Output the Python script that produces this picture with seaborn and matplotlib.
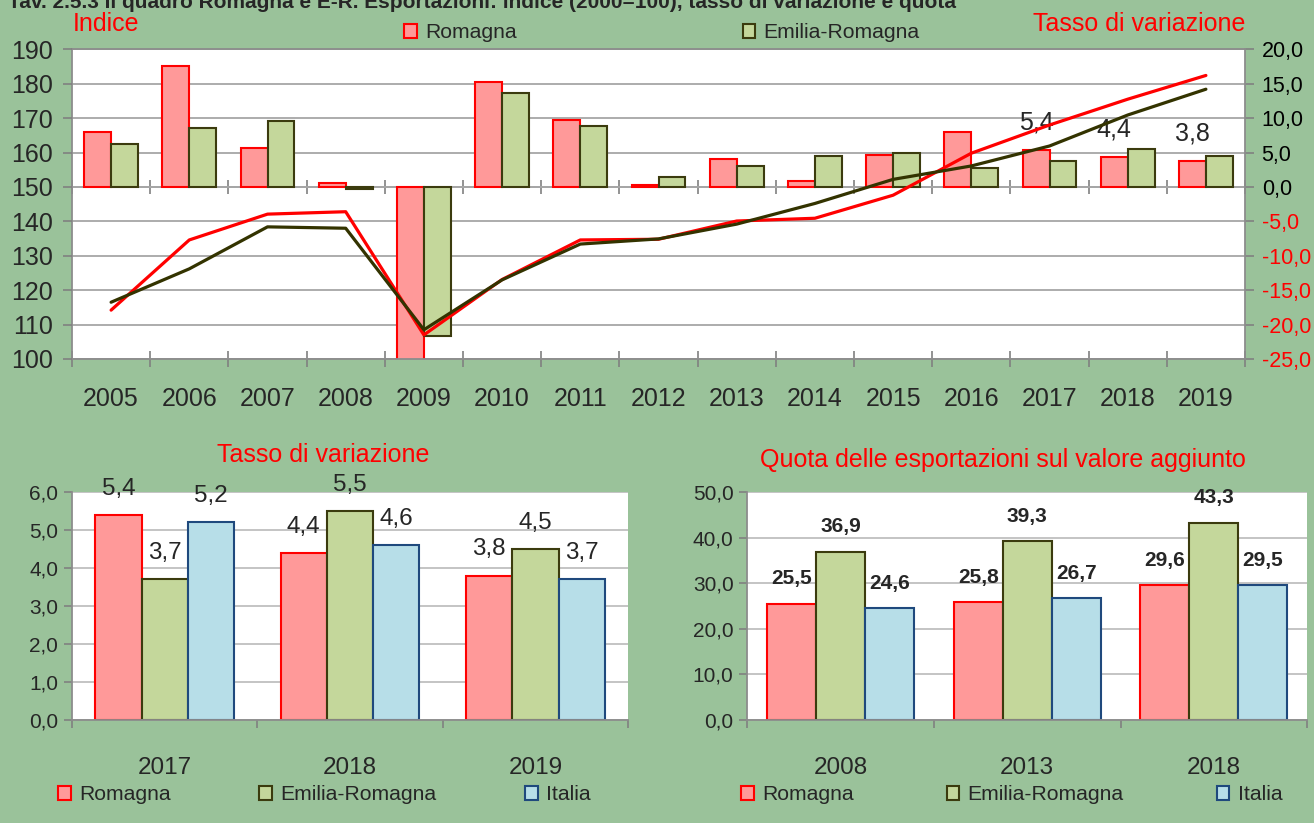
import numpy as np
import pandas as pd
import matplotlib
matplotlib.use("Agg")
import matplotlib.pyplot as plt
from matplotlib.patches import Patch
from matplotlib.ticker import FixedLocator
import seaborn as sns

# ---------------------------------------------------------------- data
years = [str(y) for y in range(2005, 2020)]
# export index (2000 = 100), lines on the left axis
idx_romagna = [114.2, 134.6, 142.1, 142.8, 107.0, 123.1, 134.6, 134.8, 140.1,
               140.9, 147.6, 159.8, 168.0, 175.5, 182.4]
idx_er = [116.5, 126.2, 138.4, 138.0, 108.5, 123.0, 133.4, 134.9, 139.2,
          145.2, 152.2, 156.1, 161.9, 170.9, 178.4]
# yearly change (%), bars on the right axis
var_romagna = [8.0, 17.6, 5.7, 0.6, -25.5, 15.3, 9.7, 0.3, 4.1, 0.8, 4.7,
               8.0, 5.4, 4.4, 3.8]
var_er = [6.2, 8.6, 9.6, -0.3, -21.7, 13.7, 8.8, 1.4, 3.0, 4.5, 4.9, 2.8,
          3.7, 5.5, 4.5]
labelled_years = ["2017", "2018", "2019"]

rate_years = ["2017", "2018", "2019"]
rate_romagna = [5.4, 4.4, 3.8]
rate_er = [3.7, 5.5, 4.5]
rate_italia = [5.2, 4.6, 3.7]

share_years = ["2008", "2013", "2018"]
share_romagna = [25.5, 25.8, 29.6]
share_er = [36.9, 39.3, 43.3]
share_italia = [24.6, 26.7, 29.5]

areas = ["Romagna", "Emilia-Romagna", "Italia"]

title = ("Tav. 2.5.3 Il quadro Romagna e E-R. Esportazioni: indice (2000=100), "
         "tasso di variazione e quota")

# ---------------------------------------------------------------- style
sns.set_style("ticks")
plt.rcParams["font.family"] = ["Liberation Sans", "DejaVu Sans"]

BG = "#9AC29A"
FILL = ["#FF9999", "#C4D79B", "#B7DEE8"]
EDGE = ["#FF0000", "#3B3B0E", "#1F497D"]
LINE = ["#FF0000", "#333300"]
GRID = "#A6A6A6"
TICK = "#808080"
LEGEND_SIZE = 15.2

W, H = 1314, 823


def box(left, top, right, bottom):
    return [left / W, 1 - bottom / H, (right - left) / W, (bottom - top) / H]


def fmt(v):
    return f"{v:.1f}".replace(".", ",")


def legend_handles(n):
    return [Patch(facecolor=FILL[i], edgecolor=EDGE[i], linewidth=1.5)
            for i in range(n)]


fig = plt.figure(figsize=(W / 100, H / 100), dpi=100, facecolor=BG)

fig.text(8 / W, 1 - 8 / H, title, fontsize=15, fontweight="bold",
         va="baseline", ha="left")

# ---------------------------------------------------------------- top chart
ax = fig.add_axes(box(72, 49.3, 1245, 359))
ax.set_facecolor("white")

top_df = pd.DataFrame({
    "anno": years * 2,
    "area": [areas[0]] * len(years) + [areas[1]] * len(years),
    "variazione": var_romagna + var_er,
})
sns.barplot(data=top_df, x="anno", y="variazione", hue="area", order=years,
            hue_order=areas[:2], palette=FILL[:2], saturation=1, width=0.69,
            errorbar=None, legend=False, ax=ax)
for cont, ec in zip(ax.containers, EDGE[:2]):
    for p in cont:
        p.set_edgecolor(ec)
        p.set_linewidth(1.5)

rom_labels = [fmt(v) if y in labelled_years else ""
              for y, v in zip(years, var_romagna)]
ax.bar_label(ax.containers[0], labels=rom_labels, padding=11, fontsize=18)

axl = ax.twinx()
line_df = pd.DataFrame({
    "pos": list(range(len(years))) * 2,
    "area": [areas[0]] * len(years) + [areas[1]] * len(years),
    "indice": idx_romagna + idx_er,
})
sns.lineplot(data=line_df, x="pos", y="indice", hue="area",
             hue_order=areas[:2], palette=LINE, linewidth=2.3, legend=False,
             ax=axl)

ax.set_xlim(-0.5, len(years) - 0.5)

# right axis: yearly change
bar_lim = (-25, 20)
ax.set_ylim(*bar_lim)
rt = np.arange(-25, 21, 5)
ax.yaxis.tick_right()
ax.set_yticks(rt, [fmt(v) for v in rt])
ax.tick_params(axis="y", which="major", right=True, left=False,
               labelright=True, labelleft=False, length=6.5, width=1.2,
               color=TICK, labelsize=15.5, pad=5.5)
for t, v in zip(ax.yaxis.get_major_ticks(), rt):
    t.label2.set_color("#FF0000" if v < 0 else "black")
ax.yaxis.grid(True, color=GRID, lw=1.3)
ax.set_axisbelow(True)

# left axis: index
axl.yaxis.tick_left()
axl.set_ylim(100, 190)
lt = np.arange(100, 191, 10)
axl.set_yticks(lt, [str(v) for v in lt])
axl.tick_params(axis="y", left=True, right=False, labelleft=True,
                labelright=False, length=6.5, width=1.2, color=TICK,
                labelsize=18, pad=7)
for s in axl.spines.values():
    s.set_visible(False)

bounds = np.arange(len(years) + 1) - 0.5
ax.set_xticks(range(len(years)), years)
ax.xaxis.set_minor_locator(FixedLocator(bounds))
ax.tick_params(axis="x", which="major", length=0, pad=20, labelsize=18)
ax.tick_params(axis="x", which="minor", bottom=True, direction="inout",
               length=11, width=1.2, color=TICK)
ax.set_xlabel("")
ax.set_ylabel("")
axl.set_xlabel("")
axl.set_ylabel("")
for s in ax.spines.values():
    s.set_visible(True)
    s.set_color("#8C8C8C")
    s.set_linewidth(1.3)

# category tick marks crossing the zero line of the bars
zero_frac = (0 - bar_lim[0]) / (bar_lim[1] - bar_lim[0])
sec = ax.secondary_xaxis(zero_frac)
sec.set_xticks(bounds, [""] * len(bounds))
sec.tick_params(direction="inout", length=10, width=1.2, color=TICK)
for s in sec.spines.values():
    s.set_color(GRID)
    s.set_linewidth(1.3)

fig.text(73 / W, 1 - 24 / H, "Indice", color="#FF0000", fontsize=18,
         va="center", ha="left")
fig.text(1245 / W, 1 - 24 / H, "Tasso di variazione", color="#FF0000",
         fontsize=18, va="center", ha="right")
fig.legend(legend_handles(2), areas[:2], loc="center left",
           bbox_to_anchor=(404 / W, 1 - 33 / H), ncol=2, frameon=False,
           fontsize=LEGEND_SIZE, handlelength=0.6, handleheight=0.6,
           handletextpad=0.4, columnspacing=10.7, borderpad=0,
           borderaxespad=0)


# ---------------------------------------------------------------- bottom charts
def grouped(ax, cats, series, width, ymax, step, label_size, label_weight):
    df = pd.DataFrame({
        "anno": [c for _ in areas for c in cats],
        "area": [a for a in areas for _ in cats],
        "valore": [v for s in series for v in s],
    })
    ax.set_facecolor("white")
    sns.barplot(data=df, x="anno", y="valore", hue="area", order=cats,
                hue_order=areas, palette=FILL, saturation=1, width=width,
                errorbar=None, legend=False, ax=ax)
    for cont, ec, vals in zip(ax.containers, EDGE, series):
        for p in cont:
            p.set_edgecolor(ec)
            p.set_linewidth(1.5)
        ax.bar_label(cont, labels=[fmt(v) for v in vals], padding=11,
                     fontsize=label_size, fontweight=label_weight)
    ax.set_xlim(-0.5, len(cats) - 0.5)
    ax.set_ylim(0, ymax)
    yt = np.arange(0, ymax + step / 2, step)
    ax.set_yticks(yt, [fmt(v) for v in yt])
    ax.tick_params(axis="y", length=6, width=1.2, color=TICK, labelsize=15,
                   pad=4)
    ax.yaxis.grid(True, color="#BFBFBF", lw=1.3)
    ax.set_axisbelow(True)
    ax.set_xticks(range(len(cats)), cats)
    ax.xaxis.set_minor_locator(
        FixedLocator(np.arange(len(cats) + 1) - 0.5))
    ax.tick_params(axis="x", which="major", length=0, pad=27,
                   labelsize=17.5)
    ax.tick_params(axis="x", which="minor", bottom=True, direction="out",
                   length=6, width=1.2, color=TICK)
    ax.set_xlabel("")
    ax.set_ylabel("")
    for side in ("top", "right"):
        ax.spines[side].set_visible(False)
    for side in ("left", "bottom"):
        ax.spines[side].set_color("#8C8C8C")
        ax.spines[side].set_linewidth(1.3)


ax_rate = fig.add_axes(box(72, 492, 628, 720))
grouped(ax_rate, rate_years, [rate_romagna, rate_er, rate_italia], 0.75,
        6, 1, 17.5, "normal")
fig.text(323 / W, 1 - 455 / H, "Tasso di variazione", color="#FF0000",
         fontsize=18, ha="center", va="center")
fig.legend(legend_handles(3), areas, loc="center left",
           bbox_to_anchor=(58 / W, 1 - 795 / H), ncol=3, frameon=False,
           fontsize=LEGEND_SIZE, handlelength=0.6, handleheight=0.6,
           handletextpad=0.4, columnspacing=4.2, borderpad=0,
           borderaxespad=0)

ax_share = fig.add_axes(box(747.5, 492, 1307, 720))
grouped(ax_share, share_years, [share_romagna, share_er, share_italia], 0.79,
        50, 10, 15, "bold")
fig.text(1003 / W, 1 - 460 / H,
         "Quota delle esportazioni sul valore aggiunto", color="#FF0000",
         fontsize=18, ha="center", va="center")
fig.legend(legend_handles(3), areas, loc="center left",
           bbox_to_anchor=(741 / W, 1 - 795 / H), ncol=3, frameon=False,
           fontsize=LEGEND_SIZE, handlelength=0.6, handleheight=0.6,
           handletextpad=0.4, columnspacing=4.4, borderpad=0,
           borderaxespad=0)

fig.savefig("out.png", dpi=100, facecolor=BG)
